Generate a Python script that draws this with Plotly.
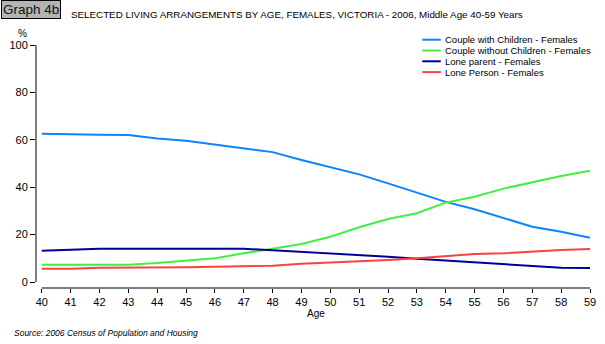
import plotly.graph_objects as go

ages = list(range(40, 60))
couple_with_children = [62.6, 62.2, 62.1, 62.0, 60.6, 59.6, 58.1, 56.4, 54.8, 51.5,
                        48.3, 45.4, 41.6, 37.7, 33.8, 30.7, 26.9, 23.3, 21.2, 18.7]
couple_without_children = [7.3, 7.3, 7.3, 7.3, 8.0, 9.1, 10.0, 12.1, 13.9, 16.0,
                           19.1, 23.1, 26.6, 29.0, 33.5, 36.0, 39.4, 42.2, 44.7, 47.0]
lone_parent = [13.2, 13.6, 14.0, 14.0, 14.0, 14.0, 14.0, 14.0, 13.4, 12.8,
               12.0, 11.5, 10.7, 9.8, 9.0, 8.2, 7.7, 6.9, 6.0, 5.9]
lone_person = [5.6, 5.6, 6.0, 6.0, 6.1, 6.2, 6.4, 6.5, 6.9, 7.7,
               8.2, 8.6, 9.3, 10.0, 10.8, 11.8, 12.1, 12.9, 13.5, 13.9]

series_names = ["Couple with Children - Females", "Couple without Children - Females",
                "Lone parent - Females", "Lone Person - Females"]
series_values = [couple_with_children, couple_without_children, lone_parent, lone_person]
colors = ["#0A84FF", "#40F040", "#000099", "#FF4040"]
y_ticks = [0, 20, 40, 60, 80, 100]

FONT = "Liberation Sans"

fig = go.Figure()
for name, vals, col in zip(series_names, series_values, colors):
    fig.add_trace(go.Scatter(x=ages, y=vals, mode="lines", name=name,
                             line=dict(color=col, width=2), showlegend=False))

fig.update_layout(
    width=605, height=344,
    margin=dict(l=28, r=9, t=45, b=56),
    paper_bgcolor="white", plot_bgcolor="white",
    font=dict(family=FONT, size=10, color="black"),
    xaxis=dict(range=[39.8, 59], tickvals=ages, ticktext=[str(a) for a in ages],
               showline=False, showgrid=False, zeroline=False,
               ticks="outside", ticklen=4, tickcolor="black",
               tickfont=dict(size=11), fixedrange=True),
    yaxis=dict(range=[-2.53, 100], tickvals=y_ticks, showline=False,
               showgrid=False, zeroline=False, ticks="outside", ticklen=5,
               tickcolor="black", tickfont=dict(size=11)),
)

# axis lines
fig.add_shape(type="line", xref="x", yref="paper", x0=ages[0], x1=ages[-1], y0=0, y1=0,
              line=dict(color="black", width=1))
fig.add_shape(type="line", xref="paper", yref="y", x0=0, x1=0, y0=y_ticks[0], y1=y_ticks[-1],
              line=dict(color="black", width=1))

# title block
fig.add_annotation(text="Graph 4b", xref="paper", yref="paper", x=-35.5/568, y=1 + 45/243,
                   xanchor="left", yanchor="top", showarrow=False,
                   font=dict(family=FONT, size=13.5, color="#111111"),
                   bgcolor="#B4B4B4", bordercolor="black", borderwidth=1, borderpad=1)
fig.add_annotation(text="SELECTED LIVING ARRANGEMENTS BY AGE, FEMALES, VICTORIA - 2006, Middle Age 40-59 Years",
                   xref="paper", yref="paper", x=(62 - 28) / 568, y=1 + (45 - 14) / 243,
                   xanchor="left", yanchor="middle", showarrow=False,
                   font=dict(family=FONT, size=9.8))
fig.add_annotation(text="%", xref="paper", yref="paper", x=(14 - 28) / 568, y=1 + (45 - 33) / 243,
                   xanchor="center", yanchor="middle", showarrow=False, font=dict(size=10))
fig.add_annotation(text="Age", xref="paper", yref="paper", x=(315 - 28) / 568, y=-(313 - 288) / 243,
                   xanchor="center", yanchor="middle", showarrow=False, font=dict(size=10))
fig.add_annotation(text="<i>Source: 2006 Census of Population and Housing</i>",
                   xref="paper", yref="paper", x=(3 - 28) / 568, y=-(333 - 288) / 243,
                   xanchor="left", yanchor="middle", showarrow=False, font=dict(size=8.5))

# manual legend
for i, (name, col) in enumerate(zip(series_names, colors)):
    ypix = 39.7 + i * 10.8
    yp = 1 + (45 - ypix) / 243
    fig.add_shape(type="line", xref="paper", yref="paper",
                  x0=(424 - 28) / 568, x1=(443 - 28) / 568, y0=yp, y1=yp,
                  line=dict(color=col, width=2))
    fig.add_annotation(text=name, xref="paper", yref="paper", x=(445 - 28) / 568, y=yp,
                       xanchor="left", yanchor="middle", showarrow=False,
                       font=dict(size=9.5))

fig.write_html("out.html")
